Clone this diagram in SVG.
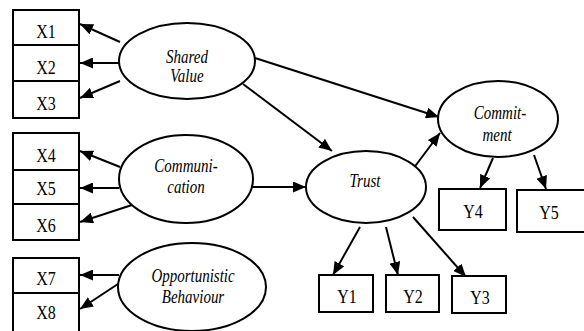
<svg xmlns="http://www.w3.org/2000/svg" width="584" height="331" viewBox="0 0 584 331">
<defs>
<style>
.box{fill:#fff;stroke:#000;stroke-width:2}
.ell{fill:#fff;stroke:#000;stroke-width:2}
.lbl{font-size:16px;fill:#000;text-anchor:middle}
.lat{font-size:15px;font-style:italic;fill:#000;text-anchor:middle}
.con line{stroke:#000;stroke-width:2;marker-end:url(#ah)}
</style>
<marker id="ah" markerUnits="userSpaceOnUse" markerWidth="13" markerHeight="11" refX="13" refY="5.5" orient="auto">
<path d="M0,0 L13,5.5 L0,11 z" fill="#000"/>
</marker>
</defs>
<rect width="584" height="331" fill="#fff"/>
<g class="con">
<line x1="120" y1="42" x2="80" y2="24"/>
<line x1="119" y1="63" x2="80" y2="63"/>
<line x1="120" y1="81" x2="80" y2="98"/>
<line x1="255" y1="58" x2="439" y2="117"/>
<line x1="243" y1="84" x2="332" y2="151"/>
<line x1="120" y1="167" x2="80" y2="151"/>
<line x1="119" y1="188" x2="80" y2="188"/>
<line x1="132" y1="205" x2="80" y2="222"/>
<line x1="252" y1="187" x2="306" y2="187"/>
<line x1="119" y1="275" x2="80" y2="275"/>
<line x1="121" y1="282" x2="80" y2="309"/>
<line x1="413" y1="169" x2="440" y2="133"/>
<line x1="493" y1="158" x2="480" y2="188"/>
<line x1="534" y1="155" x2="546" y2="189"/>
<line x1="360" y1="227" x2="333" y2="275"/>
<line x1="386" y1="227" x2="398" y2="275"/>
<line x1="413" y1="217" x2="466" y2="277"/>
</g>
<g font-family="'Liberation Serif', 'Times New Roman', serif">
<g id="X1"><rect class="box" x="13" y="10" width="66" height="35"/><text class="lbl" transform="translate(46,38) scale(1,1.15)">X1</text></g>
<g id="X2"><rect class="box" x="13" y="45" width="66" height="36"/><text class="lbl" transform="translate(46,74) scale(1,1.15)">X2</text></g>
<g id="X3"><rect class="box" x="13" y="81" width="66" height="37"/><text class="lbl" transform="translate(46,110) scale(1,1.15)">X3</text></g>
<g id="X4"><rect class="box" x="13" y="133" width="66" height="37"/><text class="lbl" transform="translate(46,162) scale(1,1.15)">X4</text></g>
<g id="X5"><rect class="box" x="13" y="170" width="66" height="34"/><text class="lbl" transform="translate(46,195) scale(1,1.15)">X5</text></g>
<g id="X6"><rect class="box" x="13" y="204" width="66" height="36"/><text class="lbl" transform="translate(46,232) scale(1,1.15)">X6</text></g>
<g id="X7"><rect class="box" x="13" y="258" width="66" height="35"/><text class="lbl" transform="translate(46,285) scale(1,1.15)">X7</text></g>
<g id="X8"><rect class="box" x="13" y="293" width="66" height="45"/><text class="lbl" transform="translate(46,319) scale(1,1.15)">X8</text></g>
<g id="SharedValue"><ellipse class="ell" cx="187" cy="61" rx="68" ry="38"/><text class="lat" transform="translate(187,63) scale(1,1.2)">Shared</text><text class="lat" transform="translate(187,82) scale(1,1.2)">Value</text></g>
<g id="Communication"><ellipse class="ell" cx="186" cy="179" rx="67" ry="44"/><text class="lat" transform="translate(186,172) scale(1,1.2)">Communi-</text><text class="lat" transform="translate(186,193) scale(1,1.2)">cation</text></g>
<g id="Opportunistic"><ellipse class="ell" cx="192" cy="287" rx="74" ry="44"/><text class="lat" transform="translate(193,282) scale(1,1.2)">Opportunistic</text><text class="lat" transform="translate(193,303) scale(1,1.2)">Behaviour</text></g>
<g id="Trust"><ellipse class="ell" cx="366" cy="187" rx="60" ry="36"/><text class="lat" transform="translate(365,187) scale(1,1.2)">Trust</text></g>
<g id="Commitment"><ellipse class="ell" cx="498" cy="119" rx="60" ry="38"/><text class="lat" transform="translate(500,119) scale(1,1.2)">Commit-</text><text class="lat" transform="translate(497,141) scale(1,1.2)">ment</text></g>
<g id="Y1"><rect class="box" x="319" y="275" width="54" height="37"/><text class="lbl" transform="translate(347,303) scale(1,1.15)">Y1</text></g>
<g id="Y2"><rect class="box" x="386" y="275" width="53" height="37"/><text class="lbl" transform="translate(413,303) scale(1,1.15)">Y2</text></g>
<g id="Y3"><rect class="box" x="452" y="276" width="54" height="37"/><text class="lbl" transform="translate(480,304) scale(1,1.15)">Y3</text></g>
<g id="Y4"><rect class="box" x="439" y="189" width="67" height="41"/><text class="lbl" transform="translate(473,218) scale(1,1.15)">Y4</text></g>
<g id="Y5"><rect class="box" x="517" y="190" width="70" height="42"/><text class="lbl" transform="translate(549,219) scale(1,1.15)">Y5</text></g>
</g>
</svg>
